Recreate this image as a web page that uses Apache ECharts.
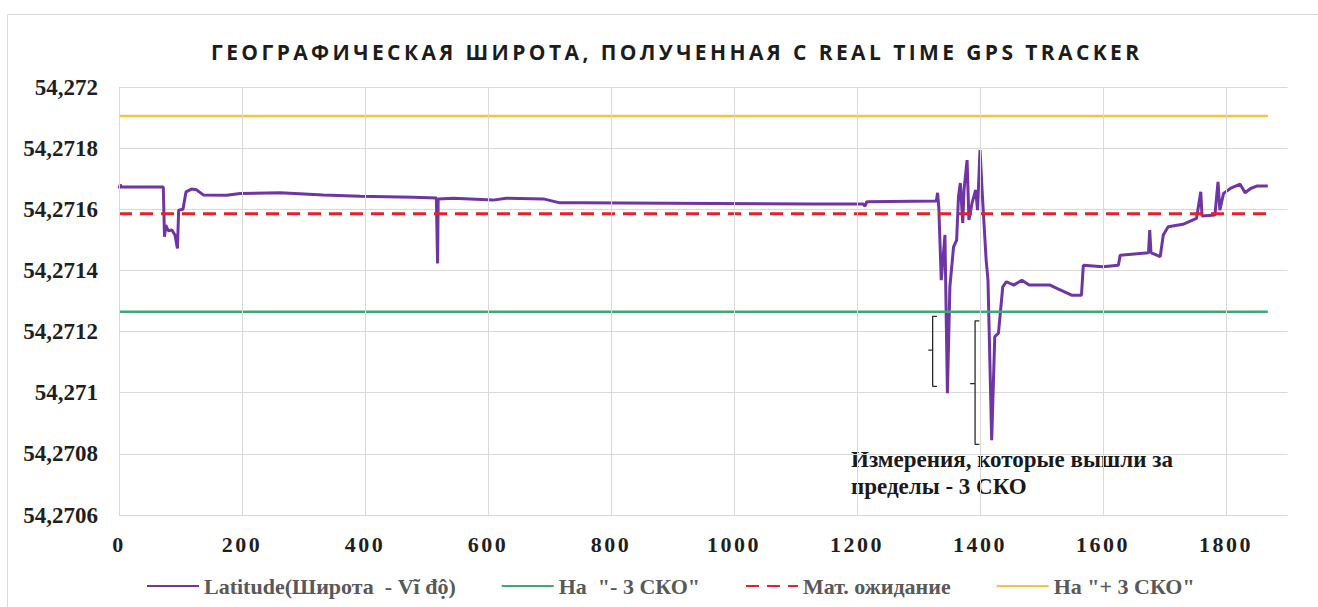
<!DOCTYPE html>
<html>
<head>
<meta charset="utf-8">
<script src="https://cdn.jsdelivr.net/npm/echarts@6/dist/echarts.min.js"></script>
<style>
  html, body { margin: 0; padding: 0; background: #ffffff; }
  #chart { width: 1318px; height: 607px; }
</style>
</head>
<body>
<div id="chart"></div>
<script>
// Sample index along the track and the latitude recorded at that sample
const sampleIndex = [
  0, 2, 4, 72, 74, 76, 80, 86, 91, 95, 97, 104, 109, 118, 125, 137, 175, 197,
  262, 332, 392, 478, 516, 518, 519, 520, 543, 608, 630, 690, 717, 750, 966,
  1128, 1210, 1213, 1216, 1329, 1331, 1333, 1337, 1343, 1347, 1351, 1357, 1362,
  1365, 1368, 1372, 1374, 1379, 1382, 1387, 1393, 1396, 1400, 1404, 1410, 1413,
  1419, 1424, 1430, 1437, 1443, 1455, 1468, 1480, 1514, 1525, 1549, 1565, 1568,
  1600, 1625, 1628, 1674, 1676, 1678, 1693, 1698, 1706, 1730, 1752, 1759, 1761,
  1782, 1787, 1790, 1796, 1807, 1823, 1831, 1840, 1850, 1868
];
const latitude = [
  54.271668, 54.27168, 54.271673, 54.271673, 54.27151, 54.271548, 54.27153, 54.271532, 54.271516, 54.271472, 54.271597, 54.2716, 54.271657, 54.271666, 54.271665, 54.271647, 54.271646, 54.271652,
  54.271654, 54.271647, 54.271643, 54.271639, 54.271637, 54.271423, 54.271634, 54.271633, 54.271636, 54.27163, 54.271636, 54.271634, 54.271621, 54.271621, 54.271619,
  54.271617, 54.271617, 54.27161, 54.271625, 54.271627, 54.271654, 54.271608, 54.271368, 54.271516, 54.270998, 54.271346, 54.271477, 54.271499,
  54.271641, 54.271686, 54.271555, 54.271663, 54.271761, 54.271565, 54.27162, 54.271663, 54.271597, 54.271794, 54.27164, 54.271434, 54.271368,
  54.270845, 54.271183, 54.271195, 54.271346, 54.271363, 54.271352, 54.271368, 54.271352, 54.271352, 54.271341, 54.271319, 54.271319, 54.271417,
  54.271412, 54.271417, 54.27145, 54.271458, 54.271532, 54.271458, 54.271445, 54.271516, 54.271543, 54.271551, 54.27157, 54.271657, 54.271578,
  54.271581, 54.27169, 54.271597, 54.271652, 54.271668, 54.271682, 54.271654, 54.271668, 54.271676, 54.271676
];

// Statistics of the series: expectation and the ±3σ bounds
const meanLatitude = 54.271585;
const lowerBound = 54.271265;   // mean - 3σ
const upperBound = 54.271905;   // mean + 3σ
const sampleRange = [0, 1868];

// Axis ticks
const xTicks = [0, 200, 400, 600, 800, 1000, 1200, 1400, 1600, 1800];
const yTicks = [54.2706, 54.2708, 54.271, 54.2712, 54.2714, 54.2716, 54.2718, 54.272];

// Series names
const seriesNames = ['Latitude(Широта  - Vĩ độ)', 'На  "- 3 СКО"', 'Мат. ожидание', 'На "+ 3 СКО"'];
const titleText = 'ГЕОГРАФИЧЕСКАЯ ШИРОТА, ПОЛУЧЕННАЯ С REAL TIME GPS TRACKER';
const noteLines = ['Измерения, которые вышли за', 'пределы - 3 СКО'];

// Brackets marking the readings that fall below -3σ: [spine x, arm x, tick x, top, middle, bottom]
const outlierBrackets = [
  [1323, 1330, 1316, 54.27125, 54.271139, 54.271021],
  [1392, 1399, 1384, 54.271235, 54.27103, 54.270831]
];

const serif = '"Liberation Serif", "Times New Roman", serif';
const gridColor = '#d9d9d9';

const chart = echarts.init(document.getElementById('chart'), null, { renderer: 'svg' });

const latitudePoints = sampleIndex.map((x, i) => [x, latitude[i]]);
const flat = v => [[sampleRange[0], v], [sampleRange[1], v]];

const bracketSeries = outlierBrackets.map(b => ({
  type: 'line',
  silent: true,
  symbol: 'none',
  z: 6,
  lineStyle: { color: '#2b2b2b', width: 1.3 },
  data: [[b[1], b[3]], [b[0], b[3]], [b[0], b[4]], [b[2], b[4]], [b[0], b[4]], [b[0], b[5]], [b[1], b[5]]]
}));

chart.setOption({
  animation: false,
  backgroundColor: '#ffffff',
  title: {
    text: titleText,
    left: 206,
    top: 36,
    textStyle: { fontFamily: '"Open Sans", sans-serif', fontWeight: 'bold', fontSize: 21, color: '#1c1c1c' }
  },
  graphic: [
    {
      type: 'rect',
      silent: true,
      shape: { x: 7.5, y: 14.5, width: 1330, height: 620 },
      style: { fill: 'none', stroke: '#d9d9d9', lineWidth: 1 }
    },
    {
      type: 'text',
      left: 851,
      top: 446,
      silent: true,
      style: {
        text: noteLines.join('\n'),
        font: 'bold 23px ' + serif,
        fill: '#1a1a1a',
        lineHeight: 27
      }
    }
  ],
  grid: { left: 119, right: 30.5, top: 87, bottom: 92, containLabel: false },
  legend: {
    data: seriesNames,
    left: 141,
    top: 570,
    itemWidth: 52,
    itemHeight: 14,
    itemGap: 45,
    itemStyle: { opacity: 0 },
    textStyle: { fontFamily: serif, fontWeight: 'bold', fontSize: 22, color: '#595959' }
  },
  xAxis: {
    type: 'value',
    min: 0,
    max: 1900,
    interval: 200,
    axisLine: { show: false },
    axisTick: { show: false },
    splitLine: { show: false },
    axisLabel: {
      margin: 18,
      showMaxLabel: false,
      fontFamily: serif,
      fontWeight: 'bold',
      fontSize: 22,
      color: '#1f1f1f',
      formatter: v => (xTicks.indexOf(v) >= 0 ? String(v) : '')
    }
  },
  yAxis: {
    type: 'value',
    min: yTicks[0],
    max: yTicks[yTicks.length - 1],
    interval: 0.0002,
    axisLine: { show: false },
    axisTick: { show: false },
    splitLine: { show: true, lineStyle: { color: gridColor, width: 1 } },
    axisLabel: {
      margin: 21,
      fontFamily: serif,
      fontWeight: 'bold',
      fontSize: 23,
      color: '#1f1f1f',
      formatter: v => parseFloat(v.toFixed(4)).toString().replace('.', ',')
    }
  },
  series: [
    {
      name: seriesNames[0],
      type: 'line',
      symbol: 'none',
      z: 3,
      color: '#7030A0',
      lineStyle: { color: '#6f35a5', width: 3 },
      data: latitudePoints
    },
    {
      name: seriesNames[1],
      type: 'line',
      symbol: 'none',
      z: 4,
      color: '#3fa874',
      lineStyle: { color: '#3fa874', width: 2.5 },
      data: flat(lowerBound)
    },
    {
      name: seriesNames[2],
      type: 'line',
      symbol: 'none',
      z: 4,
      color: '#e8202a',
      lineStyle: { color: '#e8202a', width: 3, type: [13, 8] },
      data: flat(meanLatitude)
    },
    {
      name: seriesNames[3],
      type: 'line',
      symbol: 'none',
      z: 4,
      color: '#f5c242',
      lineStyle: { color: '#f5c242', width: 2.5 },
      data: flat(upperBound)
    },
    // vertical grid lines at the labelled sample ticks
    {
      type: 'line',
      silent: true,
      symbol: 'none',
      z: 1,
      data: [],
      markLine: {
        silent: true,
        symbol: 'none',
        label: { show: false },
        lineStyle: { color: gridColor, width: 1, type: 'solid' },
        data: xTicks.map(x => ({ xAxis: x }))
      }
    },
    ...bracketSeries
  ]
});

// spread the letters of the title and of the sample-axis labels
const xLabelTexts = xTicks.map(String);
chart.getDom().querySelectorAll('svg text').forEach(t => {
  if (t.textContent === titleText) t.style.letterSpacing = '3.4px';
  else if (xLabelTexts.indexOf(t.textContent) >= 0) t.style.letterSpacing = '2.5px';
});
</script>
</body>
</html>
